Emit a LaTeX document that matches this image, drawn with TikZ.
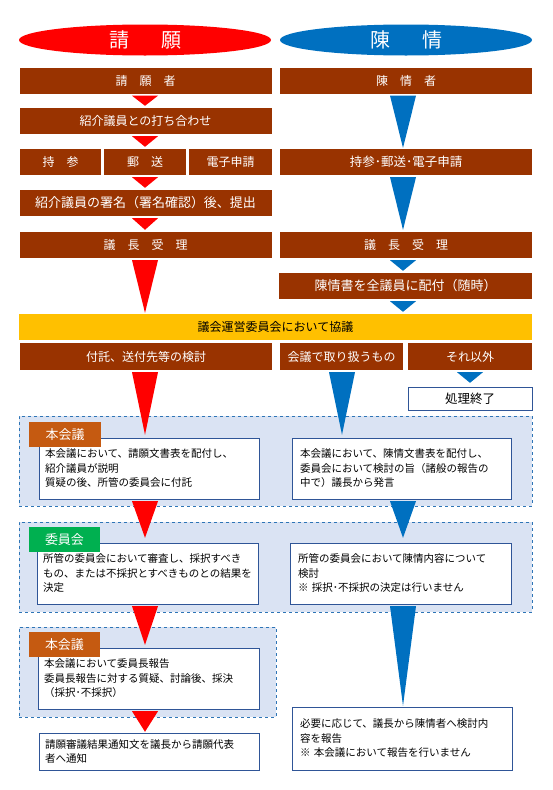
\documentclass[tikz,border=0pt]{standalone}
\usepackage{fontspec}
\setmainfont{Noto Sans CJK JP}
\usepackage{tikz}
\usetikzlibrary{positioning,calc,shapes.geometric}

\definecolor{petred}{HTML}{FF0000}
\definecolor{chenblue}{HTML}{0070C0}
\definecolor{boxbrown}{HTML}{993300}
\definecolor{baryellow}{HTML}{FFC000}
\definecolor{panelfill}{HTML}{DAE3F3}
\definecolor{paneledge}{HTML}{2E75B6}
\definecolor{tagbrown}{HTML}{C55A11}
\definecolor{taggreen}{HTML}{00B050}
\definecolor{noteedge}{HTML}{2F5597}

\tikzset{
  headoval/.style={ellipse, minimum width=252, minimum height=31, inner sep=0pt,
    text=white, font=\fontsize{20}{24}\selectfont},
  stage/.style={fill=boxbrown, text=white, minimum height=26, inner sep=0pt,
    font=\fontsize{12}{14}\selectfont},
  widestage/.style={stage, font=\fontsize{13}{15}\selectfont},
  councilbar/.style={fill=baryellow, minimum width=513, minimum height=26, inner sep=0pt,
    font=\fontsize{12}{14}\selectfont},
  panel/.style={fill=panelfill, draw=paneledge, dashed, semithick, inner sep=0pt, minimum height=90},
  note/.style={fill=white, draw=noteedge, thin, align=left, text width=208, inner xsep=6pt,
    inner ysep=0pt, font=\fontsize{10.5}{14.5}\selectfont},
  tag/.style={text=white, minimum width=72, minimum height=25, inner sep=0pt,
    font=\fontsize{13}{15}\selectfont},
}

% #1 tip gap, #2 colour, #3 axis, #4 from, #5 to
\newcommand{\flow}[5][2]{%
  \fill[#2] ($(#3 |- #4.south)+(-13,2)$) -- ($(#3 |- #4.south)+(13,2)$)
    -- ($(#3 |- #5.north)+(0,-#1)$) -- cycle;}

\begin{document}
\begin{tikzpicture}[x=1pt, y=-1pt]
  \useasboundingbox (0,0) rectangle (553,790);

  % Axes of the arrows
  \coordinate (lx) at (145,0);
  \coordinate (rx) at (403,0);
  \coordinate (mx) at (342,0);
  \coordinate (ex) at (470,0);

  % Headings
  \node[headoval, fill=petred]   (petition) at (145,40) {請\hspace{1.6em}願};
  \node[headoval, fill=chenblue] (appeal)   at (406,40) {陳\hspace{1.6em}情};

  % Petition column
  \node[stage, minimum width=252] (petr)   at (145.5,80.5) {請　願　者};
  \node[stage, minimum width=252] (meet)   at (145.5,121)  {紹介議員との打ち合わせ};
  \node[stage, minimum width=81]  (bring)  at (60.5,162)   {持　参};
  \node[stage, minimum width=82]  (mail)   at (145,162)    {郵　送};
  \node[stage, minimum width=83]  (online) at (230.5,162)  {電子申請};
  \node[widestage, minimum width=252] (sign) at (145.5,203) {紹介議員の署名（署名確認）後、提出};
  \node[stage, minimum width=252] (lrecv)  at (145.5,245)  {議　長　受　理};

  % Appeal column
  \node[stage, minimum width=252] (chen)  at (406,80.5)  {陳　情　者};
  \node[stage, minimum width=252, font=\fontsize{12.5}{14}\selectfont] (rsend) at (406,162) {持参･郵送･電子申請};
  \node[stage, minimum width=252] (rrecv) at (406,245)   {議　長　受　理};
  \node[widestage, minimum width=253] (dist) at (405.5,286) {陳情書を全議員に配付（随時）};

  % Steering committee
  \node[councilbar] (bar) at (275.5,327) {議会運営委員会において協議};

  \node[stage, minimum width=252, minimum height=27] (lrefer) at (146,356.5)   {付託、送付先等の検討};
  \node[stage, minimum width=123, minimum height=27] (handle) at (341.5,356.5) {会議で取り扱うもの};
  \node[stage, minimum width=124, minimum height=27] (other)  at (470,356.5)   {それ以外};
  \node[fill=white, draw=noteedge, thin, minimum width=124, minimum height=23, inner sep=0pt,
    font=\fontsize{12.5}{14}\selectfont] (done) at (470,398.5) {処理終了};

  % Panels
  \node[panel, minimum width=513] (p1) at (275.5,461) {};
  \node[panel, minimum width=513] (p2) at (275.5,567) {};
  \node[panel, minimum width=257] (p3) at (147.5,672) {};

  % Plenary, first reading
  \node[note, minimum height=61] (n1l) at (149,468.5)
    {本会議において、請願文書表を配付し、\\紹介議員が説明\\質疑の後、所管の委員会に付託};
  \node[note, minimum height=61, inner xsep=8pt, text width=203] (n1r) at (401.5,468.5)
    {本会議において、陳情文書表を配付し、\\委員会において検討の旨（諸般の報告の\\中で）議長から発言};
  \node[tag, fill=tagbrown] (tag1) at (65,434.5) {本会議};

  % Committee
  \node[note, minimum height=61, text width=209] (n2l) at (147.5,573.5)
    {所管の委員会において審査し、採択すべき\\もの、または不採択とすべきものとの結果を\\決定};
  \node[note, minimum height=61, inner xsep=8pt, text width=205] (n2r) at (400.5,573.5)
    {所管の委員会において陳情内容について\\検討\\※ 採択･不採択の決定は行いません};
  \node[tag, fill=taggreen, minimum width=71] (tag2) at (64.5,539.5) {委員会};

  % Plenary, vote
  \node[note, minimum height=61, text width=209] (n3l) at (148.5,678.5)
    {本会議において委員長報告\\委員長報告に対する質疑、討論後、採決\\（採択･不採択）};
  \node[tag, fill=tagbrown, minimum width=71] (tag3) at (64.5,644.5) {本会議};

  % Outcomes
  \node[note, minimum height=37] (flin) at (149,751.5)
    {請願審議結果通知文を議長から請願代表\\者へ通知};
  \node[note, minimum height=63, inner xsep=8pt, text width=204] (fout) at (402,738.5)
    {必要に応じて、議長から陳情者へ検討内\\容を報告\\※ 本会議において報告を行いません};

  % Connect the nodes
  \flow{petred}{lx}{petr}{meet}
  \flow{petred}{lx}{meet}{mail}
  \flow{petred}{lx}{mail}{sign}
  \flow{petred}{lx}{sign}{lrecv}
  \flow[1]{petred}{lx}{lrecv}{bar}
  \flow[3]{petred}{lx}{lrefer}{n1l}
  \flow[5]{petred}{lx}{n1l}{n2l}
  \flow[3]{petred}{lx}{n2l}{n3l}
  \flow[1]{petred}{lx}{n3l}{flin}

  \flow[1]{chenblue}{rx}{chen}{rsend}
  \flow{chenblue}{rx}{rsend}{rrecv}
  \flow{chenblue}{rx}{rrecv}{dist}
  \flow{chenblue}{rx}{dist}{bar}
  \flow[3]{chenblue}{mx}{handle}{n1r}
  \flow[4]{chenblue}{ex}{other}{done}
  \flow[5]{chenblue}{rx}{n1r}{n2r}
  \flow[1]{chenblue}{rx}{n2r}{fout}

\end{tikzpicture}
\end{document}
